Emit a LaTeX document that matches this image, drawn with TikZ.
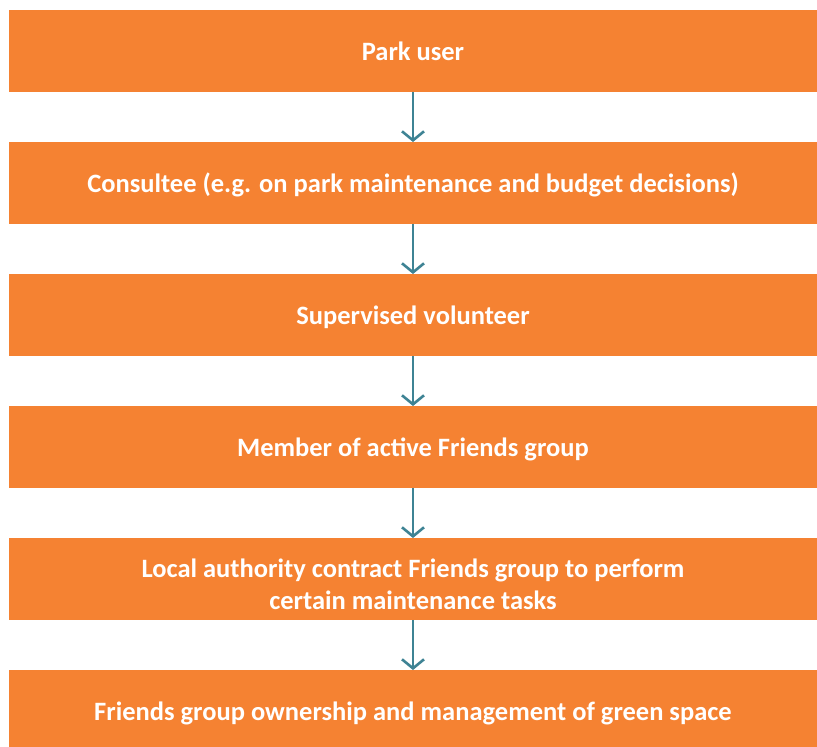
\documentclass[tikz,border=0pt]{standalone}
\usepackage{fontspec}
\setmainfont{Carlito}
\usepackage{tikz}
\usetikzlibrary{arrows.meta, positioning}

\definecolor{parkorange}{RGB}{245,130,50}
\definecolor{parkteal}{RGB}{62,131,148}

\tikzset{
    stage/.style={fill=parkorange, text=white, font=\fontsize{26.5}{32}\selectfont\bfseries,
        minimum width=808pt, minimum height=82pt, inner sep=0pt, outer sep=0pt,
        text depth=0pt, align=center},
    stepline/.style={parkteal, line width=2.6pt, -{Straight Barb[length=9pt, width=22pt, line width=2.6pt]}}
}

\begin{document}
\begin{tikzpicture}[x=1pt, y=-1pt]
    % Page
    \clip (0,0) rectangle (817,747);
    \fill[white] (0,0) rectangle (817,747);
    % Stages of involvement
    \node[stage] (user) at (413,51) {Park user};
    \node[stage, below=50pt of user] (consultee) {Consultee (e.g. on park maintenance and budget decisions)};
    \node[stage, below=50pt of consultee] (volunteer) {Supervised volunteer};
    \node[stage, below=50pt of volunteer] (member) {Member of active Friends group};
    \node[stage, below=50pt of member] (contract) {\rule{0pt}{29pt}Local authority contract Friends group to perform\\certain maintenance tasks};
    \node[stage, below=50pt of contract] (owner) {Friends group ownership and management of green space};
    % Arrows between stages
    \draw[stepline] (user) -- (consultee);
    \draw[stepline] (consultee) -- (volunteer);
    \draw[stepline] (volunteer) -- (member);
    \draw[stepline] (member) -- (contract);
    \draw[stepline] (contract) -- (owner);
\end{tikzpicture}
\end{document}
